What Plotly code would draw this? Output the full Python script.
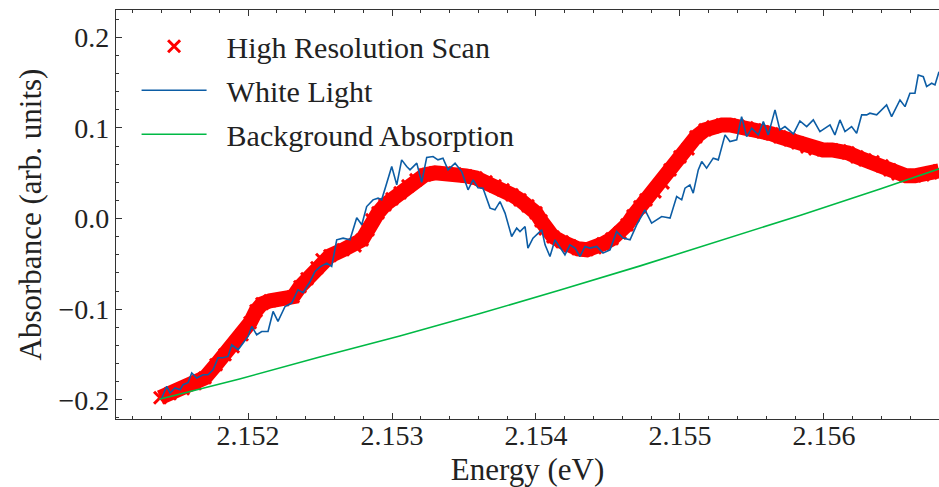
import plotly.graph_objects as go

# ---------------- data ----------------
scan_energy = [
    2.151389, 2.151458, 2.151549, 2.151632, 2.151701, 2.151778, 2.151840, 2.151896, 2.151958, 2.152014,
    2.152056, 2.152097, 2.152153, 2.152243, 2.152313, 2.152361, 2.152410, 2.152479, 2.152514, 2.152569,
    2.152660, 2.152743, 2.152792, 2.152833, 2.152861, 2.152903, 2.152951, 2.153000, 2.153056, 2.153111,
    2.153167, 2.153229, 2.153299, 2.153368, 2.153438, 2.153514, 2.153583, 2.153653, 2.153715, 2.153771,
    2.153833, 2.153889, 2.153944, 2.154000, 2.154035, 2.154063, 2.154118, 2.154181, 2.154236, 2.154292,
    2.154354, 2.154410, 2.154465, 2.154528, 2.154583, 2.154632, 2.154674, 2.154722, 2.154764, 2.154826,
    2.154882, 2.154931, 2.155000, 2.155056, 2.155111, 2.155174, 2.155229, 2.155292, 2.155347, 2.155403,
    2.155465, 2.155521, 2.155576, 2.155639, 2.155694, 2.155764, 2.155819, 2.155882, 2.155938, 2.155993,
    2.156056, 2.156111, 2.156167, 2.156229, 2.156285, 2.156340, 2.156403, 2.156458, 2.156514, 2.156569,
    2.156632, 2.156688, 2.156743, 2.156799,
]
scan_absorbance = [
    -0.19779, -0.19338, -0.18786, -0.18234, -0.17573, -0.16139, -0.15036, -0.14153, -0.12829, -0.11506,
    -0.10182, -0.09410, -0.09079, -0.08968, -0.08637, -0.07534, -0.06652, -0.05438, -0.04556, -0.04115,
    -0.03453, -0.03012, -0.02350, -0.01247, -0.00143, 0.00629, 0.01511, 0.02173, 0.02835, 0.03607,
    0.04269, 0.04821, 0.05041, 0.05041, 0.04931, 0.04710, 0.04490, 0.04048, 0.03607, 0.03166,
    0.02614, 0.02063, 0.01401, 0.00629, -0.00254, -0.01136, -0.02019, -0.02570, -0.03012, -0.03342,
    -0.03453, -0.03232, -0.02791, -0.02239, -0.01577, -0.00695, 0.00298, 0.01291, 0.02063, 0.02945,
    0.03938, 0.05372, 0.06806, 0.07689, 0.09013, 0.09785, 0.10116, 0.10336, 0.10336, 0.10226,
    0.10005, 0.09785, 0.09564, 0.09344, 0.09013, 0.08682, 0.08351, 0.07910, 0.07689, 0.07579,
    0.07579, 0.07468, 0.07247, 0.06806, 0.06475, 0.06255, 0.05813, 0.05372, 0.04931, 0.04710,
    0.04710, 0.04821, 0.05041, 0.05262,
]

white_energy = [
    2.151401, 2.151435, 2.151458, 2.151493, 2.151528, 2.151549, 2.151583, 2.151609, 2.151644, 2.151688,
    2.151722, 2.151757, 2.151792, 2.151826, 2.151861, 2.151887, 2.151931, 2.151965, 2.152000, 2.152026,
    2.152060, 2.152095, 2.152139, 2.152174, 2.152208, 2.152257, 2.152303, 2.152347, 2.152382, 2.152431,
    2.152465, 2.152500, 2.152547, 2.152581, 2.152616, 2.152660, 2.152708, 2.152755, 2.152790, 2.152824,
    2.152868, 2.152903, 2.152928, 2.152963, 2.152998, 2.153033, 2.153067, 2.153102, 2.153125, 2.153172,
    2.153206, 2.153241, 2.153285, 2.153319, 2.153354, 2.153389, 2.153438, 2.153484, 2.153528, 2.153563,
    2.153597, 2.153632, 2.153681, 2.153715, 2.153750, 2.153785, 2.153831, 2.153866, 2.153889, 2.153924,
    2.153944, 2.153979, 2.154040, 2.154063, 2.154097, 2.154132, 2.154167, 2.154201, 2.154236, 2.154271,
    2.154306, 2.154340, 2.154375, 2.154422, 2.154465, 2.154514, 2.154560, 2.154604, 2.154653, 2.154699,
    2.154757, 2.154803, 2.154873, 2.154931, 2.154977, 2.155012, 2.155035, 2.155069, 2.155092, 2.155127,
    2.155151, 2.155185, 2.155231, 2.155266, 2.155313, 2.155347, 2.155394, 2.155428, 2.155463, 2.155498,
    2.155544, 2.155579, 2.155613, 2.155660, 2.155694, 2.155729, 2.155788, 2.155833, 2.155880, 2.155926,
    2.155972, 2.156007, 2.156042, 2.156076, 2.156111, 2.156146, 2.156192, 2.156227, 2.156262, 2.156297,
    2.156319, 2.156366, 2.156435, 2.156470, 2.156528, 2.156563, 2.156597, 2.156632, 2.156655, 2.156690,
    2.156713, 2.156748, 2.156771, 2.156799,
]
white_absorbance = [
    -0.19812, -0.18533, -0.19261, -0.18709, -0.18897, -0.18345, -0.18125, -0.17055, -0.17606, -0.17242,
    -0.17242, -0.16691, -0.15367, -0.15367, -0.15223, -0.13933, -0.14484, -0.13712, -0.13017, -0.11914,
    -0.12830, -0.12466, -0.12466, -0.10259, -0.11362, -0.09708, -0.09333, -0.07865, -0.08196, -0.06950,
    -0.05847, -0.05328, -0.04920, -0.05295, -0.02350, -0.02162, -0.02350, 0.00077, -0.00695, 0.01324,
    0.02063, 0.02250, 0.02063, 0.03905, 0.05736, 0.03718, 0.06475, 0.05736, 0.05372, 0.06111,
    0.03993, 0.06751, 0.06840, 0.06475, 0.06663, 0.05372, 0.06111, 0.05185, 0.03166, 0.04269,
    0.03387, 0.03354, 0.01147, 0.00960, 0.01875, 0.00596, -0.01986, -0.01059, -0.01434, -0.00883,
    -0.03265, -0.02162, -0.01247, -0.02901, -0.04192, -0.02350, -0.03265, -0.04004, -0.02901, -0.03265,
    -0.04192, -0.03089, -0.03265, -0.03089, -0.03817, -0.03453, -0.01434, -0.02162, -0.02350, -0.00695,
    0.00960, -0.00507, 0.00221, 0.00044, 0.02427, 0.02063, 0.03354, 0.03718, 0.02802, 0.05372,
    0.06288, 0.05560, 0.06663, 0.06475, 0.09233, 0.08494, 0.08682, 0.11252, 0.09046, 0.09972,
    0.09233, 0.10700, 0.09233, 0.11991, 0.09785, 0.10149, 0.09344, 0.10778, 0.10149, 0.10888,
    0.09597, 0.09972, 0.10336, 0.09233, 0.10888, 0.09597, 0.10149, 0.09421, 0.11440, 0.11440,
    0.11627, 0.11440, 0.12543, 0.11252, 0.13094, 0.12355, 0.13834, 0.13834, 0.15852, 0.15665,
    0.14562, 0.14937, 0.14749, 0.16216,
]

background_energy = [2.151384, 2.151941, 2.152498, 2.153054, 2.153611, 2.154168,
                     2.154724, 2.155281, 2.155838, 2.156395, 2.156805]
background_absorbance = [-0.19956, -0.17716, -0.15280, -0.12978, -0.10480, -0.07896,
                         -0.05226, -0.02472, 0.00369, 0.03299, 0.05513]

x_range = [2.151083, 2.156799]
y_range = [-0.2213, 0.2302]
x_tickvals = [2.152, 2.153, 2.154, 2.155, 2.156]
y_tickvals = [-0.2, -0.1, 0.0, 0.1, 0.2]

series_names = ["High Resolution Scan", "White Light", "Background Absorption"]

# ---------------- figure ----------------
RED = "#FF0000"
BLUE = "#0C5DA5"
GREEN = "#00B945"
FONT = "Liberation Serif"
AX = "#333333"
TXT = "#222222"
PAD = "\u00a0\u00a0"   # extra gap between legend symbol and label

fig = go.Figure()

# dense scan -> thick band underneath the x markers
fig.add_trace(go.Scatter(
    x=scan_energy, y=scan_absorbance, mode="lines",
    line=dict(color=RED, width=15), showlegend=False, hoverinfo="skip",
))
fig.add_trace(go.Scatter(
    x=scan_energy, y=scan_absorbance, mode="markers", name=PAD + series_names[0],
    marker=dict(symbol="x-thin", size=12, color=RED, line=dict(color=RED, width=3)),
    legendgroup="a",
))
fig.add_trace(go.Scatter(
    x=white_energy, y=white_absorbance, mode="lines", name=PAD + series_names[1],
    line=dict(color=BLUE, width=1.6), legendgroup="b",
))
fig.add_trace(go.Scatter(
    x=background_energy, y=background_absorbance, mode="lines", name=PAD + series_names[2],
    line=dict(color=GREEN, width=1.6), legendgroup="c",
))

axis_common = dict(
    showline=True, linecolor=AX, linewidth=1.2, showgrid=False, zeroline=False,
    ticks="inside", ticklen=6, tickwidth=1, tickcolor=AX,
    tickfont=dict(family=FONT, size=28, color=TXT),
)

fig.update_xaxes(
    **axis_common, range=x_range, tickvals=x_tickvals, tickformat=".3f",
    mirror="allticks", ticklabelstandoff=-9,
    minor=dict(dtick=0.0002, tick0=2.152, ticks="inside", ticklen=3, tickcolor=AX, showgrid=False),
    title=dict(text="Energy (eV)", font=dict(family=FONT, size=31, color=TXT), standoff=9),
)
fig.update_yaxes(
    **axis_common, range=y_range, tickvals=y_tickvals, tickformat=".1f",
    mirror=False,
    minor=dict(dtick=0.02, tick0=0.0, ticks="inside", ticklen=3, tickcolor=AX, showgrid=False),
    title=dict(text="Absorbance (arb. units)", font=dict(family=FONT, size=31, color=TXT), standoff=7),
)

fig.update_layout(
    width=939, height=487,
    margin=dict(l=116, r=0, t=10, b=68),
    plot_bgcolor="white", paper_bgcolor="white",
    font=dict(family=FONT, size=28, color=TXT),
    legend=dict(
        x=0.025, y=0.975, xanchor="left", yanchor="top",
        bgcolor="rgba(0,0,0,0)", borderwidth=0,
        font=dict(family=FONT, size=30, color=TXT),
        itemwidth=65, tracegroupgap=2, traceorder="grouped",
    ),
)

fig.write_html("out.html")
